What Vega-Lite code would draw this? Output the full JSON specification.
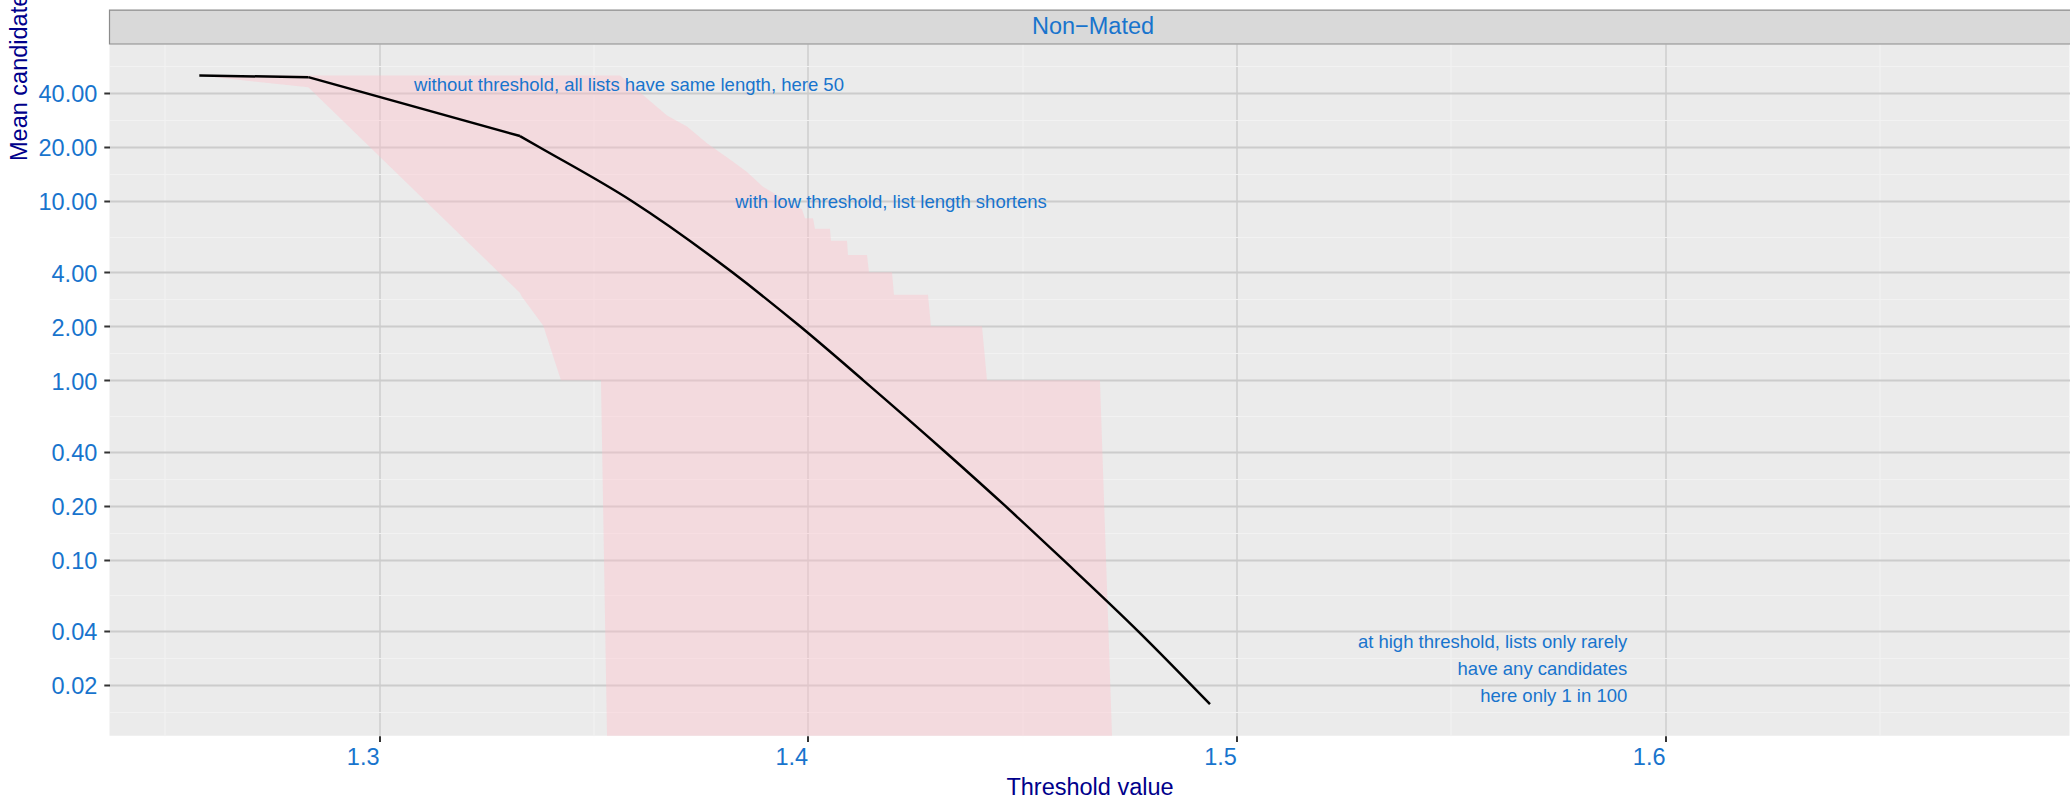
{
  "$schema": "https://vega.github.io/schema/vega-lite/v6.json",
  "width": 1960,
  "height": 691.7,
  "autosize": {"type": "none"},
  "padding": {"left": 109.5, "top": 44, "right": 0, "bottom": 63.3},
  "background": "white",
  "config": {
    "view": {"fill": "#EBEBEB", "stroke": null},
    "font": "Liberation Sans",
    "text": {"font": "Liberation Sans"}
  },
  "datasets": {
    "ribbon": [
      {"threshold": 1.25808, "lower": 50, "upper": 50},
      {"threshold": 1.28351, "lower": 43, "upper": 50},
      {"threshold": 1.3329, "lower": 3.07, "upper": 50},
      {"threshold": 1.3333, "lower": 2.93, "upper": 50},
      {"threshold": 1.3383, "lower": 2.02, "upper": 50},
      {"threshold": 1.34245, "lower": 1, "upper": 50},
      {"threshold": 1.35178, "lower": 1, "upper": 50},
      {"threshold": 1.35342, "lower": 0.005, "upper": 50},
      {"threshold": 1.35622, "lower": 0.005, "upper": 50},
      {"threshold": 1.36158, "lower": 0.005, "upper": 39},
      {"threshold": 1.36718, "lower": 0.005, "upper": 30},
      {"threshold": 1.37185, "lower": 0.005, "upper": 26},
      {"threshold": 1.37651, "lower": 0.005, "upper": 21},
      {"threshold": 1.38188, "lower": 0.005, "upper": 17},
      {"threshold": 1.38584, "lower": 0.005, "upper": 14.5},
      {"threshold": 1.38957, "lower": 0.005, "upper": 12},
      {"threshold": 1.39517, "lower": 0.005, "upper": 10},
      {"threshold": 1.39867, "lower": 0.005, "upper": 9},
      {"threshold": 1.39937, "lower": 0.005, "upper": 8},
      {"threshold": 1.40124, "lower": 0.005, "upper": 8},
      {"threshold": 1.4017, "lower": 0.005, "upper": 7},
      {"threshold": 1.4052, "lower": 0.005, "upper": 7},
      {"threshold": 1.40544, "lower": 0.005, "upper": 6},
      {"threshold": 1.40917, "lower": 0.005, "upper": 6},
      {"threshold": 1.4094, "lower": 0.005, "upper": 5},
      {"threshold": 1.41384, "lower": 0.005, "upper": 5},
      {"threshold": 1.4143, "lower": 0.005, "upper": 4},
      {"threshold": 1.41967, "lower": 0.005, "upper": 4},
      {"threshold": 1.42013, "lower": 0.005, "upper": 3},
      {"threshold": 1.42806, "lower": 0.005, "upper": 3},
      {"threshold": 1.42876, "lower": 0.005, "upper": 2},
      {"threshold": 1.44066, "lower": 0.005, "upper": 2},
      {"threshold": 1.44183, "lower": 0.005, "upper": 1},
      {"threshold": 1.46818, "lower": 0.005, "upper": 1},
      {"threshold": 1.47145, "lower": 0.005, "upper": 0.005}
    ],
    "mean": [
      {"part": "a", "threshold": 1.25808, "mean": 50},
      {"part": "a", "threshold": 1.28351, "mean": 49},
      {"part": "b", "threshold": 1.28351, "mean": 49},
      {"part": "b", "threshold": 1.33289, "mean": 23.0},
      {"part": "c", "threshold": 1.33289, "mean": 23.0},
      {"part": "c", "threshold": 1.33733, "mean": 20},
      {"part": "c", "threshold": 1.35895, "mean": 10},
      {"part": "c", "threshold": 1.38242, "mean": 4},
      {"part": "c", "threshold": 1.39821, "mean": 2},
      {"part": "c", "threshold": 1.41298, "mean": 1},
      {"part": "c", "threshold": 1.43204, "mean": 0.4},
      {"part": "c", "threshold": 1.44603, "mean": 0.2},
      {"part": "c", "threshold": 1.45956, "mean": 0.1},
      {"part": "c", "threshold": 1.47706, "mean": 0.04},
      {"part": "c", "threshold": 1.49385, "mean": 0.01565}
    ],
    "notesCenter": [
      {"x": 1.35832, "y": 41.0, "label": "without threshold, all lists have same length, here 50"},
      {"x": 1.41944, "y": 9.14, "label": "with low threshold, list length shortens"}
    ],
    "notesRight": [
      {"x": 1.5912, "y": 0.03225, "label": "at high threshold, lists only rarely"},
      {"x": 1.5912, "y": 0.02268, "label": "have any candidates"},
      {"x": 1.5912, "y": 0.01612, "label": "here only 1 in 100\u00a0"}
    ],
    "strip": [{"panel": "Non\u2212Mated"}]
  },
  "resolve": {"axis": {"x": "independent", "y": "independent"}},
  "layer": [
    {
      "data": {"name": "ribbon"},
      "mark": {"type": "area", "clip": true, "fill": "#FFC0CB", "opacity": 0.4},
      "encoding": {
        "x": {"field": "threshold", "type": "quantitative",
          "scale": {"type": "linear", "domain": [1.23713, 1.69436], "nice": false, "zero": false},
          "axis": {"orient": "bottom", "values": [1.25, 1.35, 1.45, 1.55, 1.65], "labels": false, "ticks": false, "domain": false, "title": null, "grid": true, "gridColor": "#F2F2F2", "gridWidth": 1.1}},
        "y": {"field": "upper", "type": "quantitative",
          "scale": {"type": "log", "domain": [0.01044, 75], "nice": false},
          "axis": {"orient": "left", "values": [56.57, 28.28, 14.14, 6.325, 2.828, 1.414, 0.6325, 0.2828, 0.1414, 0.06325, 0.02828, 0.01414], "labels": false, "ticks": false, "domain": false, "title": null, "grid": true, "gridColor": "#F2F2F2", "gridWidth": 1.1}},
        "y2": {"field": "lower"}
      }
    },
    {
      "data": {"name": "mean"},
      "mark": {"type": "line", "color": "black", "strokeWidth": 2.5, "interpolate": "monotone"},
      "encoding": {
        "detail": {"field": "part", "type": "nominal"},
        "x": {"field": "threshold", "type": "quantitative",
          "scale": {"type": "linear", "domain": [1.23713, 1.69436], "nice": false, "zero": false},
          "axis": {"orient": "bottom", "values": [1.3, 1.4, 1.5, 1.6], "format": ".1f",
            "labelAlign": "right", "labelBaseline": "alphabetic", "labelPadding": 23.3,
            "labelColor": "#1874CD", "labelFontSize": 23.5, "labelFont": "Liberation Sans",
            "labelOverlap": false, "labelFlush": false,
            "ticks": true, "tickColor": "#333333", "tickSize": 5.7, "tickWidth": 2,
            "domain": false, "grid": true, "gridColor": "#D0D0D0", "gridWidth": 1.6,
            "title": "Threshold value", "titleColor": "#00008B", "titleFontSize": 23.5,
            "titleFontWeight": "normal", "titleFont": "Liberation Sans",
            "titleBaseline": "alphabetic", "titleY": 59}},
        "y": {"field": "mean", "type": "quantitative",
          "scale": {"type": "log", "domain": [0.01044, 75], "nice": false},
          "axis": {"orient": "left", "values": [0.02, 0.04, 0.1, 0.2, 0.4, 1, 2, 4, 10, 20, 40], "format": ".2f",
            "labelColor": "#1874CD", "labelFontSize": 23.5, "labelFont": "Liberation Sans",
            "labelPadding": 7, "labelBaseline": "alphabetic", "labelOffset": 8.7,
            "labelOverlap": false, "labelFlush": false,
            "ticks": true, "tickColor": "#333333", "tickSize": 5.7, "tickWidth": 2,
            "domain": false, "grid": true, "gridColor": "#CCCCCC", "gridWidth": 1.8,
            "title": "Mean candidate list length", "titleColor": "#00008B", "titleFontSize": 23.5,
            "titleFontWeight": "normal", "titleFont": "Liberation Sans",
            "titleAngle": 270, "titleAlign": "left", "titleBaseline": "alphabetic",
            "titleX": -83, "titleY": 116.5}}
      }
    },
    {
      "data": {"name": "notesCenter"},
      "mark": {"type": "text", "color": "#1874CD", "fontSize": 18.5, "align": "center", "baseline": "alphabetic"},
      "encoding": {
        "x": {"field": "x", "type": "quantitative", "scale": {"type": "linear", "domain": [1.23713, 1.69436], "nice": false, "zero": false}, "axis": null},
        "y": {"field": "y", "type": "quantitative", "scale": {"type": "log", "domain": [0.01044, 75], "nice": false}, "axis": null},
        "text": {"field": "label"}
      }
    },
    {
      "data": {"name": "notesRight"},
      "mark": {"type": "text", "color": "#1874CD", "fontSize": 18.5, "align": "right", "baseline": "alphabetic"},
      "encoding": {
        "x": {"field": "x", "type": "quantitative", "scale": {"type": "linear", "domain": [1.23713, 1.69436], "nice": false, "zero": false}, "axis": null},
        "y": {"field": "y", "type": "quantitative", "scale": {"type": "log", "domain": [0.01044, 75], "nice": false}, "axis": null},
        "text": {"field": "label"}
      }
    },
    {
      "data": {"name": "strip"},
      "mark": {"type": "rect", "fill": "#D9D9D9", "stroke": "#8C8C8C", "strokeWidth": 1.2},
      "encoding": {
        "x": {"datum": 1.23713, "type": "quantitative", "scale": {"type": "linear", "domain": [1.23713, 1.69436], "nice": false, "zero": false}, "axis": null},
        "x2": {"datum": 1.9},
        "y": {"datum": 75, "type": "quantitative", "scale": {"type": "log", "domain": [0.01044, 75], "nice": false}, "axis": null},
        "y2": {"datum": 116}
      }
    },
    {
      "data": {"name": "strip"},
      "mark": {"type": "text", "color": "#1874CD", "fontSize": 23.5, "align": "center", "baseline": "alphabetic"},
      "encoding": {
        "x": {"datum": 1.46656, "type": "quantitative", "scale": {"type": "linear", "domain": [1.23713, 1.69436], "nice": false, "zero": false}, "axis": null},
        "y": {"datum": 85.5, "type": "quantitative", "scale": {"type": "log", "domain": [0.01044, 75], "nice": false}, "axis": null},
        "text": {"field": "panel"}
      }
    }
  ]
}
